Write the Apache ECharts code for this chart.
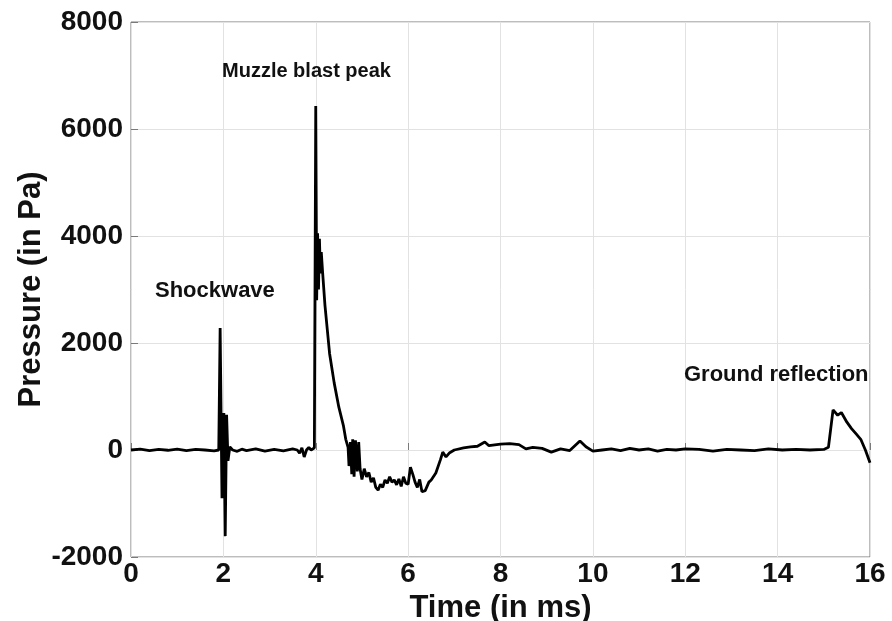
<!DOCTYPE html>
<html>
<head>
<meta charset="utf-8">
<script src="https://cdn.jsdelivr.net/npm/echarts@6/dist/echarts.min.js"></script>
<style>
  html, body { margin: 0; padding: 0; background: #fff; }
  #chart { width: 892px; height: 621px; }
</style>
</head>
<body>
<div id="chart"></div>
<script>
// Microphone pressure trace of a gunshot: time (ms) and pressure (Pa)
const timeMs = [
  0, 0.2, 0.4, 0.6, 0.8, 1.0, 1.2, 1.4, 1.6, 1.8, 1.9, 1.92,
  1.93, 1.97, 2.01, 2.04, 2.07, 2.10, 2.14, 2.2, 2.3, 2.4, 2.5, 2.7,
  2.9, 3.1, 3.3, 3.5, 3.6, 3.65, 3.7, 3.75, 3.8, 3.85, 3.9, 3.97, 3.99,
  4.0, 4.02, 4.04, 4.06, 4.08, 4.10, 4.12, 4.15, 4.2, 4.3, 4.4, 4.5,
  4.6, 4.65, 4.7, 4.72, 4.75, 4.78, 4.8, 4.83, 4.86, 4.9, 4.93, 4.96,
  5.0, 5.05, 5.1, 5.15, 5.2, 5.25, 5.3, 5.35, 5.4, 5.45, 5.5, 5.55,
  5.6, 5.65, 5.7, 5.75, 5.8, 5.85, 5.9, 5.95, 6.0, 6.05, 6.1, 6.15,
  6.2, 6.25, 6.3, 6.37, 6.45, 6.5, 6.6,
  6.7, 6.75, 6.82, 6.9, 7.0, 7.2, 7.35, 7.5, 7.66, 7.75, 8.0, 8.2,
  8.4, 8.55, 8.7, 8.9, 9.1, 9.3, 9.5, 9.72, 9.85, 10.0, 10.2, 10.4,
  10.6, 10.8, 11.0, 11.2, 11.4, 11.6, 11.8, 12.0, 12.3, 12.6, 12.9, 13.2,
  13.5, 13.8, 14.1, 14.4, 14.7, 15.0, 15.1, 15.2, 15.3, 15.38, 15.5, 15.6,
  15.7, 15.8, 15.9, 16.0
];
const pressurePa = [
  0, 15, -10, 10, -5, 15, -10, 10, 0, -15, 0, 20,
  2280, -900, 690, -1610, 660, -200, 60, 0, -25, 15, -10, 20,
  -20, 10, -15, 20, 0, -60, 40, -130, 0, 50, 0, 40, 30,
  6430, 2800, 4050, 3000, 3950, 3300, 3700, 3300, 2700, 1800, 1250, 800,
  450, 200, 50, -300, 150, -450, 200, -500, 180, -400, 150, -350,
  -550, -350, -500, -420, -600, -520, -700, -750, -640, -700, -560, -620,
  -500, -600, -560, -650, -540, -680, -500, -620, -640, -320, -450, -600,
  -700, -550, -780, -760, -600, -560, -430,
  -180, -40, -130, -50, 0, 40, 60, 70, 150, 80, 110, 120,
  100, 20, 50, 30, -40, 20, -10, 170, 60, -20, 0, 20,
  -10, 30, 0, 20, -20, 10, 0, 20, 10, -20, 10, 0,
  -10, 20, 0, 10, 0, 10, 50, 750, 650, 700, 520, 400,
  300, 200, 0, -240
];

const xTicks = [0, 2, 4, 6, 8, 10, 12, 14, 16];
const yTicks = [-2000, 0, 2000, 4000, 6000, 8000];

const annotations = [
  { text: 'Muzzle blast peak', left: 222, top: 61, size: 20 },
  { text: 'Shockwave', left: 155, top: 280, size: 22 },
  { text: 'Ground reflection', left: 684, top: 364, size: 22 }
];

const chart = echarts.init(document.getElementById('chart'), null, { renderer: 'canvas' });

const FONT = '"Liberation Sans", Arial, sans-serif';
const points = timeMs.map((t, i) => [t, pressurePa[i]]);
const plain = v => String(v);

chart.setOption({
  animation: false,
  backgroundColor: '#ffffff',
  grid: {
    left: 131, right: 22, top: 22, bottom: 64,
    outerBoundsMode: 'none', containLabel: false,
    show: true, borderColor: '#7a7a7a', borderWidth: 1, backgroundColor: 'transparent'
  },
  xAxis: {
    type: 'value',
    min: xTicks[0], max: xTicks[xTicks.length - 1], interval: 2,
    name: 'Time (in ms)', nameLocation: 'middle', nameGap: 34,
    nameTextStyle: { fontFamily: FONT, fontWeight: 'bold', fontSize: 31, color: '#111' },
    axisLine: { show: false },
    axisTick: { show: true, inside: true, length: 7, lineStyle: { color: '#7a7a7a' } },
    axisLabel: { fontFamily: FONT, fontWeight: 'bold', fontSize: 28, color: '#111', margin: 3, formatter: plain },
    splitLine: { show: true, lineStyle: { color: '#e2e2e2', width: 1 } }
  },
  yAxis: {
    type: 'value',
    min: yTicks[0], max: yTicks[yTicks.length - 1], interval: 2000,
    name: 'Pressure (in Pa)', nameLocation: 'middle', nameGap: 84, nameRotate: 90,
    nameMoveOverlap: false,
    nameTextStyle: { fontFamily: FONT, fontWeight: 'bold', fontSize: 31, color: '#111' },
    axisLine: { show: false },
    axisTick: { show: true, inside: true, length: 7, lineStyle: { color: '#7a7a7a' } },
    axisLabel: { fontFamily: FONT, fontWeight: 'bold', fontSize: 28, color: '#111', margin: 8, formatter: plain },
    splitLine: { show: true, lineStyle: { color: '#e2e2e2', width: 1 } }
  },
  graphic: annotations.map(a => ({
    type: 'text', left: a.left, top: a.top, z: 10,
    style: { text: a.text, font: 'bold ' + a.size + 'px ' + FONT, fill: '#111' }
  })),
  series: [{
    type: 'line',
    data: points,
    showSymbol: false,
    symbol: 'none',
    lineStyle: { color: '#000', width: 2.8 },
    clip: true
  }]
});
</script>
</body>
</html>
